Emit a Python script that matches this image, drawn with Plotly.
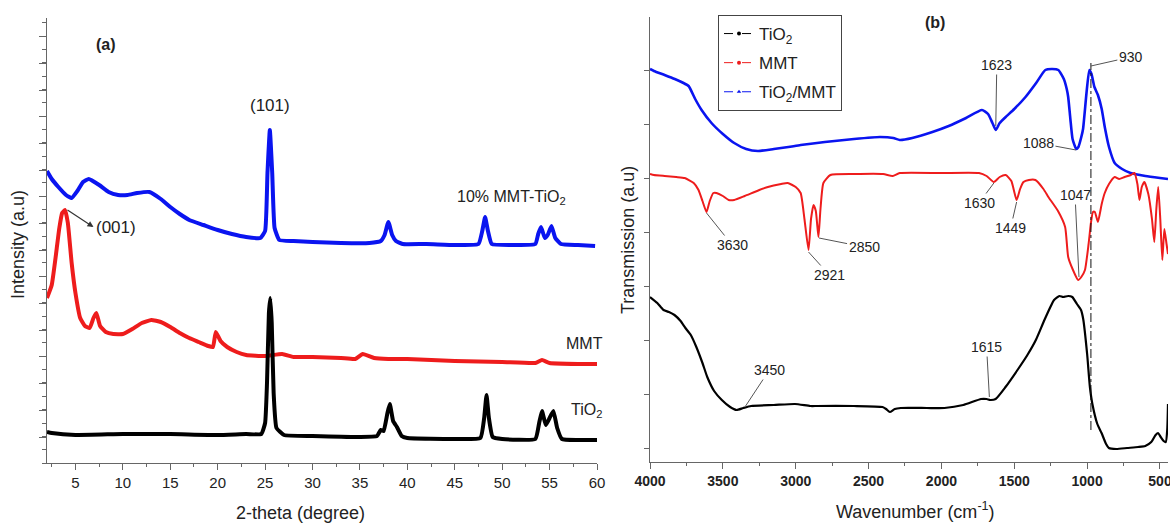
import plotly.graph_objects as go

# ---------------- (a) XRD data ----------------
xrd_tio2_x = [2.0, 2.5, 5, 10, 15, 20, 23, 24.6, 25.0, 25.2, 25.4, 25.55, 25.7, 25.9, 26.2, 27, 30, 35, 36.8, 37.2, 37.5,
              37.9, 38.15, 38.5, 38.9, 39.4, 40, 45, 47.7, 48.1, 48.35, 48.6, 49.0, 50, 53.5, 53.9, 54.2, 54.6, 55.0,
              55.4, 55.8, 56.3, 58, 60]
xrd_tio2_y = [31, 30, 28, 29, 29, 28, 29, 29, 40, 80, 150, 165, 140, 70, 35, 28, 27, 26, 27, 33, 32,
              50, 59, 42, 36, 27, 25, 24, 25, 45, 68, 45, 26, 24, 24, 40, 52, 38, 45,
              52, 35, 24, 23, 23]

xrd_mmt_x = [2.0, 2.5, 2.9, 3.3, 3.6, 3.9, 4.2, 4.6, 5.0, 5.5, 6.0, 6.5, 6.9, 7.2, 7.6, 8.2, 9.0, 10.0, 11.0, 12.0, 13.0,
             14.0, 15.0, 16.0, 17.0, 18.0, 19.0, 19.5, 19.8, 20.3, 21.0, 22.0, 23.0, 25.0, 26.8, 28, 30, 33, 34.5,
             35.3, 36.5, 38, 40, 45, 50, 53.5, 54.2, 55, 58, 60]
xrd_mmt_y = [165, 178, 205, 235, 250, 253, 240, 200, 170, 145, 137, 135, 145, 150, 137, 131, 129, 129, 134, 140, 143,
             141, 136, 130, 125, 121, 117, 116, 131, 122, 116, 111, 108, 107, 109, 106, 106, 105, 104,
             109, 105, 104, 104, 102, 101, 100, 103, 100, 99, 99]

xrd_comp_x = [2.0, 2.5, 3.2, 4.0, 4.6, 5.2, 5.8, 6.4, 7.5, 8.5, 9.5, 10.5, 11.5, 12.8, 14, 15, 16, 17, 18.5, 20, 21.5,
              23, 24.5, 25.0, 25.25, 25.5, 25.75, 26.0, 26.5, 28, 30, 33, 36, 37.2, 37.6, 38.0, 38.4, 38.8, 39.5,
              42, 45, 47.5, 47.9, 48.2, 48.5, 48.9, 51, 53.5, 53.8, 54.1, 54.5, 54.8, 55.2, 55.6, 56.2, 58, 59.8]
xrd_comp_y = [292, 284, 276, 268, 265, 272, 281, 284, 278, 271, 268, 268, 270, 271, 264, 256, 249, 243, 238, 233, 229,
              226, 225, 232, 290, 333, 290, 235, 223, 222, 221, 220, 220, 222, 228, 241, 228, 222, 219,
              219, 218, 219, 232, 246, 232, 219, 218, 219, 229, 236, 225, 228, 237, 225, 219, 218, 217]

# ---------------- (b) FTIR data ----------------
ftir_comp_x = [4000, 3973, 3900, 3830, 3770, 3735, 3690, 3646, 3578, 3500, 3422, 3340, 3259, 3150, 3050, 2966, 2800,
               2600, 2422, 2330, 2286, 2200, 2062, 1950, 1831, 1722, 1680, 1650, 1627, 1600, 1559, 1500, 1423, 1350,
               1287, 1240, 1198, 1160, 1140, 1130, 1115, 1100, 1075, 1060, 1040, 1028, 1005, 985, 970, 950, 926, 900,
               879, 850, 811, 760, 702, 600, 500, 445]
ftir_comp_y = [390, 388, 384, 380, 376, 373, 360, 349, 336, 325, 316, 310, 308, 310, 312, 314, 317,
               320, 322, 321, 319, 321, 327, 333, 341, 349, 345, 336, 329, 336, 342, 350, 362, 376,
               389, 390, 389, 380, 370, 362, 340, 320, 310, 312, 322, 330, 365, 389, 385, 372, 364, 350,
               332, 312, 296, 290, 286, 283, 281, 280]

ftir_mmt_x = [4000, 3973, 3900, 3820, 3762, 3700, 3667, 3640, 3612, 3590, 3565, 3544, 3500, 3460, 3422, 3350, 3250,
              3191, 3100, 3055, 3000, 2966, 2940, 2912, 2895, 2878, 2862, 2844, 2830, 2810, 2762, 2600, 2400, 2334,
              2286, 2000, 1742, 1690, 1640, 1600, 1559, 1520, 1484, 1460, 1437, 1400, 1355, 1300, 1266, 1200, 1151,
              1130, 1100, 1062, 1040, 1015, 990, 974, 960, 947, 926, 900, 879, 850, 811, 780, 743, 700, 675, 655,
              641, 625, 607, 580, 555, 539, 525, 512, 498, 484, 470, 455, 445]
ftir_mmt_y = [285, 284, 283, 282, 281, 276, 269, 258, 247, 258, 266, 266, 263, 259, 259, 263, 269,
              272, 275, 276, 272, 266, 240, 209, 240, 254, 248, 222, 250, 276, 284, 285, 285, 283,
              286, 286, 286, 283, 277, 282, 284, 278, 259, 270, 277, 279, 279, 270, 262, 248, 232,
              202, 190, 179, 182, 189, 215, 236, 247, 247, 237, 255, 266, 275, 282, 280, 282, 284, 286, 275,
              259, 272, 277, 265, 240, 217, 250, 272, 240, 199, 230, 215, 205]

ftir_tio2_x = [4000, 3950, 3907, 3870, 3832, 3790, 3757, 3720, 3682, 3640, 3607, 3560, 3507, 3450, 3406, 3360, 3306,
               3150, 3005, 2900, 2855, 2600, 2404, 2380, 2354, 2320, 2279, 2100, 1979, 1850, 1728, 1690, 1665, 1628,
               1560, 1478, 1410, 1352, 1290, 1227, 1190, 1165, 1130, 1102, 1070, 1042, 1027, 1000, 981, 964, 930,
               901, 870, 851, 800, 726, 650, 601, 560, 530, 513, 495, 475, 460, 450, 445]
ftir_tio2_y = [162, 156, 149, 147, 144, 138, 131, 124, 112, 96, 82, 68, 59, 52, 49, 51, 53,
               54, 55, 53, 53, 53, 52, 50, 47, 50, 51, 51, 51, 54, 60, 60, 59, 60,
               72, 89, 104, 119, 140, 159, 163, 162, 163, 162, 155, 149, 140, 105, 72, 55, 35,
               26, 15, 11, 10, 11, 12, 13, 17, 24, 26, 22, 18, 17, 30, 55]

ref_line_wavenumber = 974
ref_line_span = [29, 396]

# labels: (text, tip x, tip y, text x, text y)
ftir_labels = [
    ("1623", 1627, 333, 1620, 394),
    ("930", 974, 393, 700, 402),
    ("1088", 1076, 309, 1334, 316),
    ("1630", 1640, 276, 1742, 256),
    ("1449", 1484, 257, 1525, 231),
    ("1047", 1056, 182, 1083, 264),
    ("3630", 3612, 246, 3436, 214),
    ("2921", 2912, 207, 2769, 184),
    ("2850", 2840, 221, 2531, 212),
    ("3450", 3344, 53, 3181, 89),
    ("1615", 1671, 62, 1690, 112),
]

BLUE = "#0a14f0"
RED = "#ee1c1c"
BLACK = "#000000"
FONT = "Liberation Sans"
AXIS_C = "#666666"
TXT_C = "#222222"

fig = go.Figure()

# XRD traces
for xs, ys, col in [(xrd_comp_x, xrd_comp_y, BLUE), (xrd_mmt_x, xrd_mmt_y, RED), (xrd_tio2_x, xrd_tio2_y, BLACK)]:
    fig.add_trace(go.Scatter(x=xs, y=ys, mode="lines", line=dict(color=col, width=4, shape="spline", smoothing=0.4),
                             xaxis="x", yaxis="y", showlegend=False, cliponaxis=True))

# FTIR traces
for xs, ys, col, w in [(ftir_comp_x, ftir_comp_y, BLUE, 2.6), (ftir_mmt_x, ftir_mmt_y, RED, 2),
                       (ftir_tio2_x, ftir_tio2_y, BLACK, 2.2)]:
    fig.add_trace(go.Scatter(x=xs, y=ys, mode="lines", line=dict(color=col, width=w, shape="spline", smoothing=0.5),
                             xaxis="x2", yaxis="y2", showlegend=False, cliponaxis=True))

# legend entries
legend_items = [("TiO<sub>2</sub>", BLACK, "circle"), ("MMT", RED, "circle"),
                ("TiO<sub>2</sub>/MMT", BLUE, "triangle-up")]
for i, (name, col, sym) in enumerate(legend_items):
    fig.add_trace(go.Scatter(x=[None], y=[None], mode="lines+markers", name=name,
                             line=dict(color=col, width=1, dash="dash"),
                             marker=dict(color=col, size=4, symbol=sym),
                             xaxis="x2", yaxis="y2", legendgroup=str(i)))

fig.add_shape(type="line", xref="x2", yref="y2", x0=ref_line_wavenumber, x1=ref_line_wavenumber,
              y0=ref_line_span[0], y1=ref_line_span[1], line=dict(color="#111111", width=1, dash="dashdot"))

annotations = []
for text, tx, ty, lx, ly in ftir_labels:
    annotations.append(dict(xref="x2", yref="y2", x=tx, y=ty, axref="x2", ayref="y2", ax=lx, ay=ly,
                            text=text, showarrow=True, arrowhead=0, arrowwidth=1, arrowcolor="#555555",
                            font=dict(family=FONT, size=14, color=TXT_C), standoff=0))

def ptxt(px, py, text, size, angle=0):
    return dict(xref="paper", yref="paper", x=px / 1170, y=1 - py / 527, text=text, showarrow=False,
                xanchor="center", yanchor="middle", textangle=angle,
                font=dict(family=FONT, size=size, color=TXT_C))

# XRD labels
annotations += [
    dict(xref="x", yref="y", x=25.5, y=358, text="(101)", showarrow=False, xanchor="center", yanchor="middle",
         font=dict(family=FONT, size=17, color=TXT_C)),
    dict(xref="x", yref="y", x=6.9, y=236, ax=4.0, ay=254, axref="x", ayref="y", text="", showarrow=True,
         arrowhead=2, arrowsize=1, arrowwidth=1.2, arrowcolor="#333333"),
    dict(xref="x", yref="y", x=7.0, y=236, text="(001)", showarrow=False, xanchor="left", yanchor="middle",
         font=dict(family=FONT, size=17, color=TXT_C)),
    dict(xref="x", yref="y", x=45.0, y=266, text="10% MMT-TiO<sub>2</sub>", showarrow=False, xanchor="left",
         yanchor="middle", font=dict(family=FONT, size=16, color=TXT_C)),
    dict(xref="x", yref="y", x=58.7, y=120, text="MMT", showarrow=False, xanchor="center", yanchor="middle",
         font=dict(family=FONT, size=16, color=TXT_C)),
    dict(xref="x", yref="y", x=58.9, y=53, text="TiO<sub>2</sub>", showarrow=False, xanchor="center",
         yanchor="middle", font=dict(family=FONT, size=16, color=TXT_C)),
    ptxt(106, 44, "<b>(a)</b>", 16),
    ptxt(935, 22, "<b>(b)</b>", 16),
    ptxt(18, 245, "Intensity (a.u)", 18, -90),
    ptxt(300, 513, "2-theta (degree)", 18),
    ptxt(628, 240, "Transmission (a.u)", 18, -90),
    ptxt(915, 510, "Wavenumber (cm<sup>-1</sup>)", 18),
]

fig.update_layout(
    width=1170, height=527, margin=dict(l=0, r=0, t=0, b=0),
    paper_bgcolor="white", plot_bgcolor="white",
    font=dict(family=FONT, color=TXT_C),
    xaxis=dict(domain=[47 / 1170, 597 / 1170], range=[2, 60], tick0=0, dtick=5, ticks="outside", ticklen=6,
               tickcolor=AXIS_C, showline=True, linecolor=AXIS_C, linewidth=1.2, showgrid=False, zeroline=False,
               tickfont=dict(family=FONT, size=15, color=TXT_C), anchor="y", automargin=False,
               minor=dict(dtick=2.5, ticks="outside", ticklen=3, tickcolor=AXIS_C)),
    yaxis=dict(domain=[1 - 463 / 527, 1 - 18 / 527], range=[0, 445], tick0=26, dtick=26.67, ticks="outside",
               ticklen=7, tickcolor=AXIS_C, showline=True, linecolor=AXIS_C, linewidth=1.2, showgrid=False,
               zeroline=False, showticklabels=False, anchor="x", automargin=False,
               minor=dict(dtick=13.335, ticks="outside", ticklen=4, tickcolor=AXIS_C)),
    xaxis2=dict(domain=[650 / 1170, 1168 / 1170], range=[4000, 445], dtick=500, ticks="outside", ticklen=6,
                tickcolor=AXIS_C, showline=True, linecolor=AXIS_C, linewidth=1.2, showgrid=False, zeroline=False,
                tickfont=dict(family=FONT, size=14, color=TXT_C, weight="bold"), anchor="y2", automargin=False,
                ticklabeloverflow="allow",
                minor=dict(dtick=250, ticks="outside", ticklen=3, tickcolor=AXIS_C)),
    yaxis2=dict(domain=[1 - 462 / 527, 1 - 17 / 527], range=[-3, 442], tick0=11, dtick=53.9, ticks="outside",
                ticklen=5, tickcolor=AXIS_C, showline=True, linecolor=AXIS_C, linewidth=1.2, showgrid=False,
                zeroline=False, showticklabels=False, anchor="x2", automargin=False),
    legend=dict(x=718 / 1170, y=1 - 15 / 527, xanchor="left", yanchor="top", bgcolor="white",
                bordercolor="#444444", borderwidth=1, font=dict(family=FONT, size=17, color=TXT_C),
                tracegroupgap=4, traceorder="grouped"),
    annotations=annotations,
)

fig.write_html("out.html", config={"displayModeBar": False},
               post_script="document.body.style.margin='0px';document.body.style.overflow='hidden';")
